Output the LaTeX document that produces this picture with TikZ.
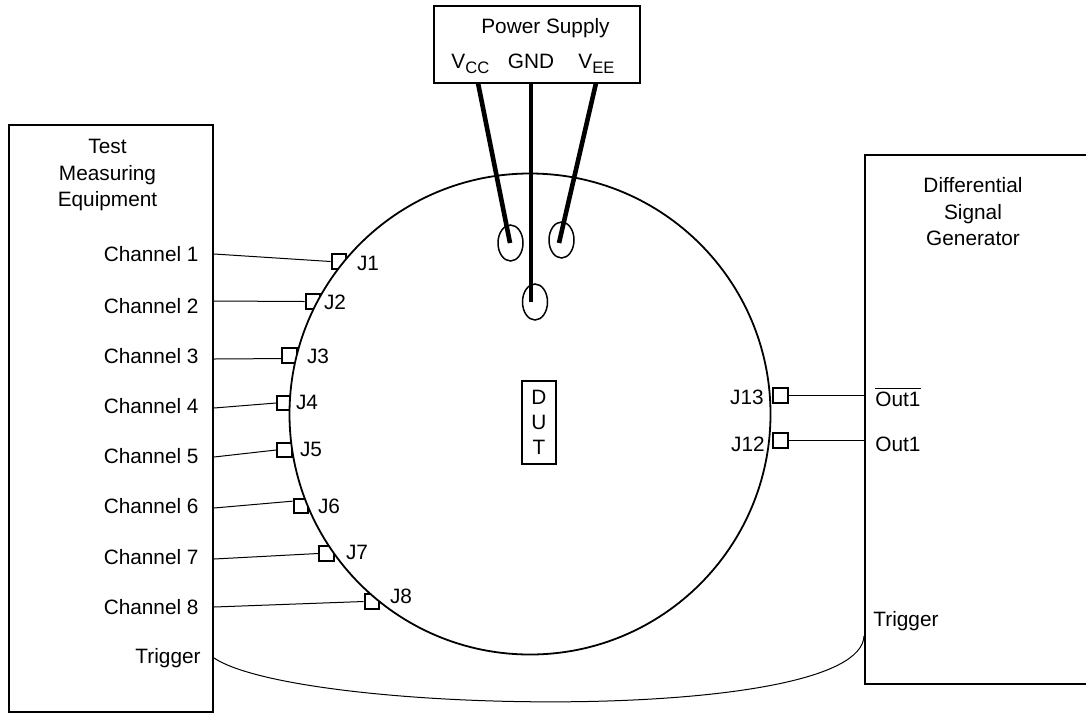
\documentclass[tikz,border=0pt]{standalone}
\usepackage{fontspec}
\usetikzlibrary{shapes.geometric}
\setmainfont{Liberation Sans}
\tikzset{
  equip/.style={draw,line width=1.1pt,minimum width=0pt},
  jack/.style={draw,line width=1pt,fill=white,minimum size=7.4pt,inner sep=0pt},
  pin/.style={draw,ellipse,line width=0.75pt,minimum width=12.5pt,minimum height=18pt,inner sep=0pt},
  lead/.style={line width=2.3pt},
  wire/.style={line width=0.5pt},
  lbl/.style={font=\fontsize{10.4pt}{13.25pt}\selectfont,inner sep=0pt},
  sublbl/.style={font=\fontsize{8.3pt}{10pt}\selectfont,inner sep=0pt},
}
\begin{document}
\begin{tikzpicture}[x=0.5pt,y=-0.5pt]
\useasboundingbox (0,0) rectangle (1086,713);
\draw[equip] (9,125) rectangle (213,712);
\draw[equip] (1086,155) -- (865,155) -- (865,684) -- (1086,684);
\node[draw,line width=1.1pt,minimum width=103pt,minimum height=38.5pt,inner sep=0pt] (supply) at (537,44.5) {};
\node[lbl] (supplytxt) at (545.5,28) {Power Supply};
\node[lbl,anchor=base west] (vcctxt) at (451,68) {V\raisebox{-2.5pt}{\fontsize{8.3pt}{10pt}\selectfont CC}};
\node[lbl] (gndtxt) at (531,61) {GND};
\node[lbl,anchor=base west] (veetxt) at (578,68) {V\raisebox{-2.5pt}{\fontsize{8.3pt}{10pt}\selectfont EE}};
% jacks go under the circle
\node[jack] (j1) at (339,261.5) {};
\node[jack] (j2) at (313,301.5) {};
\node[jack] (j3) at (289.5,355.5) {};
\node[jack] (j4) at (284.5,403) {};
\node[jack] (j5) at (284.5,450) {};
\node[jack] (j6) at (301,506) {};
\node[jack] (j7) at (326.5,553.5) {};
\node[jack] (j8) at (372,601.5) {};
\node[jack] (j13) at (780.5,395.5) {};
\node[jack] (j12) at (780.5,440.5) {};
\node[draw,circle,fill=white,line width=0.9pt,minimum size=240.5pt,inner sep=0pt] (board) at (530,414) {};
\node[draw,line width=0.75pt,minimum width=17pt,minimum height=41.5pt,inner sep=0pt,align=center,font=\fontsize{10.4pt}{12.5pt}\selectfont] (dut) at (539,422.5) {D\\U\\T};
% test equipment
\node[lbl,align=center] (test) at (107.5,175) {Test\\Measuring\\Equipment};
\node[lbl,anchor=east] (ch1) at (199,254) {Channel 1};
\node[lbl,anchor=east] (ch2) at (199,306) {Channel 2};
\node[lbl,anchor=east] (ch3) at (199,356) {Channel 3};
\node[lbl,anchor=east] (ch4) at (199,406) {Channel 4};
\node[lbl,anchor=east] (ch5) at (199,456) {Channel 5};
\node[lbl,anchor=east] (ch6) at (199,506) {Channel 6};
\node[lbl,anchor=east] (ch7) at (199,557) {Channel 7};
\node[lbl,anchor=east] (ch8) at (199,607) {Channel 8};
\node[lbl,anchor=east] (trigl) at (201,658) {Trigger};
% generator
\node[lbl,align=center] (gen) at (973,212) {Differential\\Signal\\Generator};
\node[lbl,anchor=west] (outb) at (875,397) {$\overline{\mbox{Out1}}$};
\node[lbl,anchor=west] (out) at (875,444) {Out1};
\node[lbl,anchor=west] (trigr) at (873,621) {Trigger};
% jack names
\node[lbl] (j1txt) at (368,263) {J1};
\node[lbl] (j2txt) at (335,302) {J2};
\node[lbl] (j3txt) at (318,356) {J3};
\node[lbl] (j4txt) at (307,402) {J4};
\node[lbl] (j5txt) at (311,449) {J5};
\node[lbl] (j6txt) at (329,506) {J6};
\node[lbl] (j7txt) at (357,552) {J7};
\node[lbl] (j8txt) at (401,596) {J8};
\node[lbl] (j13txt) at (747,397) {J13};
\node[lbl] (j12txt) at (748,444) {J12};
% wires
\coordinate (c1) at (214,254);
\coordinate (c2) at (214,301);
\coordinate (c3) at (214,359);
\coordinate (c4) at (214,408);
\coordinate (c5) at (214,457);
\coordinate (c6) at (214,508);
\coordinate (c7) at (214,559);
\coordinate (c8) at (214,607);
\coordinate (t1) at (214,658);
\coordinate (t2) at (864,636);
\coordinate (o13) at (865,395.5);
\coordinate (o12) at (865,440.5);
\draw[wire] (c1) -- (j1.west);
\draw[wire] (c2) -- (j2.west);
\draw[wire] (c3) -- (j3.200);
\draw[wire] (c4) -- (j4.west);
\draw[wire] (c5) -- (j5.west);
\draw[wire] (c6) -- (j6.150);
\draw[wire] (c7) -- (j7.west);
\draw[wire] (c8) -- (j8.west);
\draw[wire] (j13.east) -- (o13);
\draw[wire] (j12.east) -- (o12);
\draw[wire] (t1) .. controls (300,715) and (860,725) .. (t2);
% power leads
\node[pin] (pvcc) at (510.5,243) {};
\node[pin] (pvee) at (561.5,240) {};
\node[pin] (pgnd) at (535,302) {};
\coordinate (vcctop) at (478,83);
\coordinate (gndtop) at (531,83);
\coordinate (veetop) at (596,83);
\coordinate (vccend) at (510,243);
\coordinate (gndend) at (531,302);
\coordinate (veeend) at (559,243);
\draw[lead] (vcctop) -- (vccend);
\draw[lead] (gndtop) -- (gndend);
\draw[lead] (veetop) -- (veeend);
\end{tikzpicture}
\end{document}
